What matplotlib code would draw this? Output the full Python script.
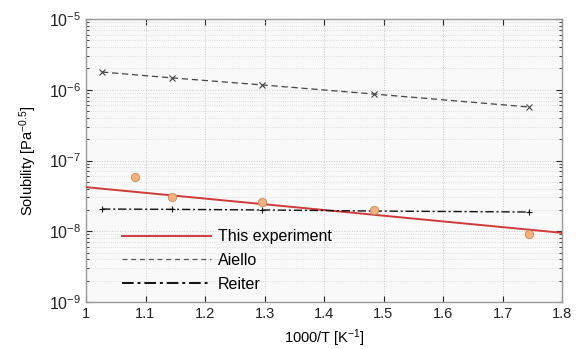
import matplotlib
matplotlib.use("Agg")
import matplotlib.pyplot as plt
import numpy as np
from matplotlib.ticker import FixedLocator, NullFormatter
from matplotlib.lines import Line2D

plt.rcParams['font.family'] = ['Liberation Sans', 'DejaVu Sans']
plt.rcParams['mathtext.fontset'] = 'custom'
plt.rcParams['mathtext.rm'] = 'Liberation Sans'
plt.rcParams['mathtext.it'] = 'Liberation Sans:italic'
plt.rcParams['mathtext.bf'] = 'Liberation Sans:bold'
plt.rcParams['mathtext.default'] = 'regular'

# Aiello data
aiello_x = [1.027, 1.145, 1.296, 1.484, 1.745]
aiello_y = [1.78e-6, 1.47e-6, 1.17e-6, 8.7e-7, 5.7e-7]
# Reiter data
reiter_x = [1.027, 1.145, 1.296, 1.484, 1.745]
reiter_y = [2.06e-8, 2.04e-8, 2.0e-8, 1.93e-8, 1.87e-8]
# This experiment: measured points and fit line
exp_x = [1.083, 1.145, 1.296, 1.484, 1.745]
exp_y = [5.8e-8, 3.05e-8, 2.56e-8, 2.0e-8, 9.1e-9]
fit_x = [1.0, 1.8]
fit_y = [4.2e-8, 9.5e-9]

xticks = [1.0, 1.1, 1.2, 1.3, 1.4, 1.5, 1.6, 1.7, 1.8]
xticklabels = ['1', '1.1', '1.2', '1.3', '1.4', '1.5', '1.6', '1.7', '1.8']
yticks = [1e-9, 1e-8, 1e-7, 1e-6, 1e-5]
yticklabels = ['$10^{-9}$', '$10^{-8}$', '$10^{-7}$', '$10^{-6}$', '$10^{-5}$']
legend_labels = ['This experiment', 'Aiello', 'Reiter']

fig = plt.figure(figsize=(5.78, 3.49), dpi=100)
ax = fig.add_axes([86/578, 1 - 302/349, (562-86)/578, (302-19)/349])
ax.set_facecolor('#f9f9f9')

red = '#d03a3a'
aiello_style = dict(color='#444444', ls=(0, (5, 3)), lw=0.9)
reiter_style = dict(color='#111111', ls=(0, (6, 2, 1.5, 2)), lw=1.0)

ax.plot(fit_x, fit_y, color=red, lw=1.4, zorder=3)
ax.plot(aiello_x, aiello_y, marker='x', ms=4, mew=0.8, zorder=3, **aiello_style)
ax.plot(reiter_x, reiter_y, marker='+', ms=5, mew=0.8, zorder=3, **reiter_style)
ax.plot(exp_x, exp_y, ls='none', marker='o', ms=6, mfc='#f2b27e', mec='#c98a5a', mew=0.6, zorder=4)

ax.set_yscale('log')
ax.set_xlim(1.0, 1.8)
ax.set_ylim(1e-9, 1e-5)
ax.set_xticks(xticks)
ax.set_xticklabels(xticklabels)
ax.set_yticks(yticks)
ax.set_yticklabels(yticklabels)
minor = [m * 10.0**e for e in range(-9, -5) for m in range(2, 10)]
ax.yaxis.set_minor_locator(FixedLocator(minor))
ax.yaxis.set_minor_formatter(NullFormatter())

ax.grid(True, which='major', color='#c8c8c8', ls=':', lw=0.7)
ax.grid(True, which='minor', axis='y', color='#d4d4d4', ls=':', lw=0.6)
ax.tick_params(which='both', direction='in', top=True, right=True, labelsize=10.5, colors='#222222')
ax.tick_params(axis='y', which='major', labelsize=11.5)
ax.tick_params(which='major', length=4)
ax.tick_params(which='minor', length=2)
for s in ax.spines.values():
    s.set_color('#999999')
    s.set_linewidth(1.0)

ax.set_xlabel('1000/T [K$^{-1}$]', fontsize=10.5, labelpad=5)
ax.set_ylabel('Solubility [Pa$^{-0.5}$]', fontsize=10.5, labelpad=7)

handles = [Line2D([], [], color=red, lw=1.4),
           Line2D([], [], color='#555555', ls=(0, (4, 3)), lw=0.9),
           Line2D([], [], color='#111111', ls=(0, (6, 2, 1.5, 2)), lw=1.4)]
ax.legend(handles, legend_labels, loc='lower left', bbox_to_anchor=(0.045, -0.015),
          frameon=False, fontsize=11.5, handlelength=5.6, labelspacing=0.55,
          handletextpad=0.4)

fig.savefig('out.png', dpi=100)
